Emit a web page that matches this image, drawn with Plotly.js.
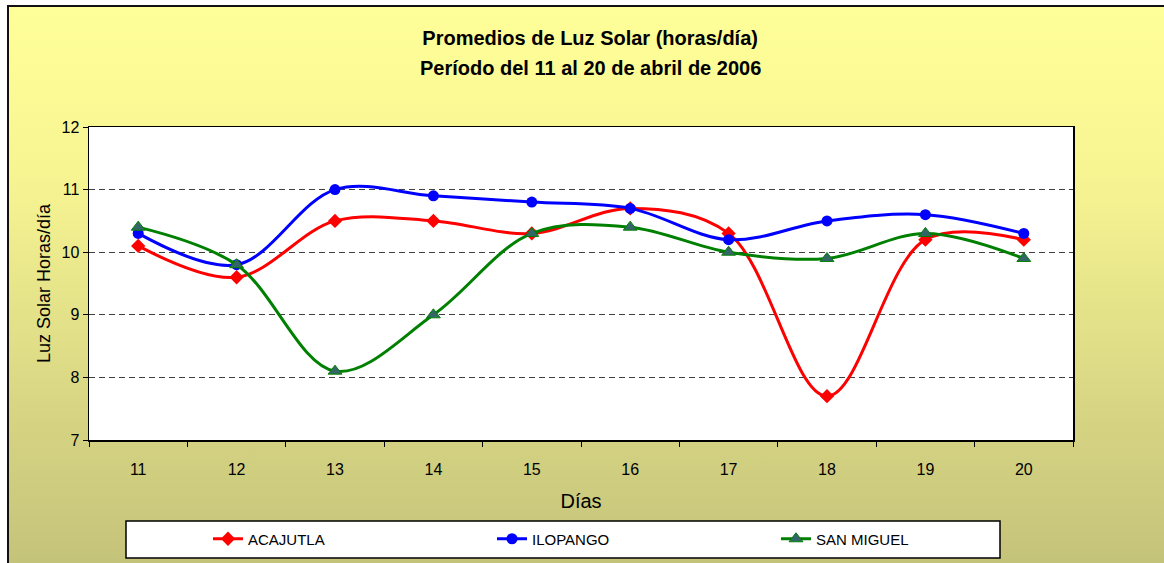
<!DOCTYPE html>
<html>
<head>
<meta charset="utf-8">
<script src="https://cdn.plot.ly/plotly-3.0.1.min.js"></script>
<style>
  html, body { margin: 0; padding: 0; background: #ffffff; }
  #wrap { position: relative; width: 1164px; height: 563px; overflow: hidden; }
  #bg { position: absolute; left: 7px; top: 5px; right: 0; bottom: 0;
        border-left: 2px solid #111; border-top: 2px solid #111;
        background: linear-gradient(to bottom, #ffff99 0%, #f7f592 30%, #d9d784 70%, #c4c37a 100%); }
  #chart { position: absolute; left: 0; top: 0; width: 1164px; height: 563px; }
</style>
</head>
<body>
<div id="wrap"><div id="bg"></div><div id="chart"></div></div>
<script>
const dias = ['11', '12', '13', '14', '15', '16', '17', '18', '19', '20'];
const acajutla  = [10.1, 9.6, 10.5, 10.5, 10.3, 10.7, 10.3, 7.7, 10.2, 10.2];
const ilopango  = [10.3, 9.8, 11.0, 10.9, 10.8, 10.7, 10.2, 10.5, 10.6, 10.3];
const sanMiguel = [10.4, 9.8, 8.1, 9.0, 10.3, 10.4, 10.0, 9.9, 10.3, 9.9];
const seriesNames = ['ACAJUTLA', 'ILOPANGO', 'SAN MIGUEL'];

const traces = [
  { x: dias, y: acajutla, name: seriesNames[0], type: 'scatter', mode: 'lines+markers',
    line: { color: '#ff0000', width: 3, shape: 'spline', smoothing: 1 },
    marker: { symbol: 'diamond', size: 11, color: '#ff0000' } },
  { x: dias, y: ilopango, name: seriesNames[1], type: 'scatter', mode: 'lines+markers',
    line: { color: '#0000ff', width: 3, shape: 'spline', smoothing: 1 },
    marker: { symbol: 'circle', size: 11, color: '#0000ff' } },
  { x: dias, y: sanMiguel, name: seriesNames[2], type: 'scatter', mode: 'lines+markers',
    line: { color: '#008000', width: 3, shape: 'spline', smoothing: 1 },
    marker: { symbol: 'triangle-up', size: 12, color: '#336666', line: { color: '#008000', width: 1 } } }
];

const PB = 440, PH = 313;  // plot-area bottom pixel and height, used for paper placement
const layout = {
  width: 1164, height: 563,
  paper_bgcolor: 'rgba(0,0,0,0)', plot_bgcolor: '#ffffff',
  margin: { l: 89, r: 91, t: 127, b: 123 },
  font: { family: 'Liberation Sans, Arial, sans-serif', color: '#000000' },
  title: { text: '<b>Promedios de Luz Solar (horas/día)</b>', x: 0.507, xanchor: 'center',
           y: 1 - 38 / 563, yanchor: 'middle', yref: 'container',
           font: { size: 20, family: 'Liberation Sans, Arial, sans-serif', color: '#000' } },
  annotations: [
    { text: '<b>Período del 11 al 20 de abril de 2006</b>', xref: 'paper', yref: 'paper',
      x: (590 - 89) / 984, y: (PB - 68) / PH, xanchor: 'center', yanchor: 'middle',
      showarrow: false, font: { size: 20, color: '#000' } }
  ],
  xaxis: {
    type: 'category', range: [-0.5, 9.5], tickson: 'boundaries', ticks: 'outside', ticklen: 5, tickcolor: '#000',
    showline: true, linecolor: '#000', linewidth: 1.5, mirror: true, automargin: false,
    showgrid: false, zeroline: false, ticklabelstandoff: 14,
    tickfont: { size: 16 },
    title: { text: 'Días', font: { size: 20 }, standoff: 17 }
  },
  yaxis: {
    range: [7, 12], dtick: 1, ticks: 'outside', ticklen: 5, tickcolor: '#000',
    showline: true, linecolor: '#000', linewidth: 1.5, mirror: true, automargin: false,
    showgrid: true, gridcolor: '#404040', gridwidth: 1, griddash: '6px,4px',
    zeroline: false, tickfont: { size: 16 },
    title: { text: 'Luz Solar Horas/día', font: { size: 18 }, standoff: 6 }
  },
  shapes: [
    { type: 'rect', xref: 'paper', yref: 'paper', layer: 'below',
      x0: (126 - 89) / 984, x1: (1000 - 89) / 984, y0: (PB - 558) / PH, y1: (PB - 521) / PH,
      fillcolor: '#ffffff', line: { color: '#000', width: 1.5 } }
  ],
  legend: {
    orientation: 'h', xref: 'container', x: 208 / 1164, xanchor: 'left',
    yref: 'container', y: 1 - 539 / 563, yanchor: 'middle',
    bgcolor: 'rgba(0,0,0,0)', borderwidth: 0, entrywidth: 239, entrywidthmode: 'pixels',
    font: { size: 15 }, itemclick: false
  },
  showlegend: true
};

Plotly.newPlot('chart', traces, layout, { displayModeBar: false, staticPlot: true });
</script>
</body>
</html>
